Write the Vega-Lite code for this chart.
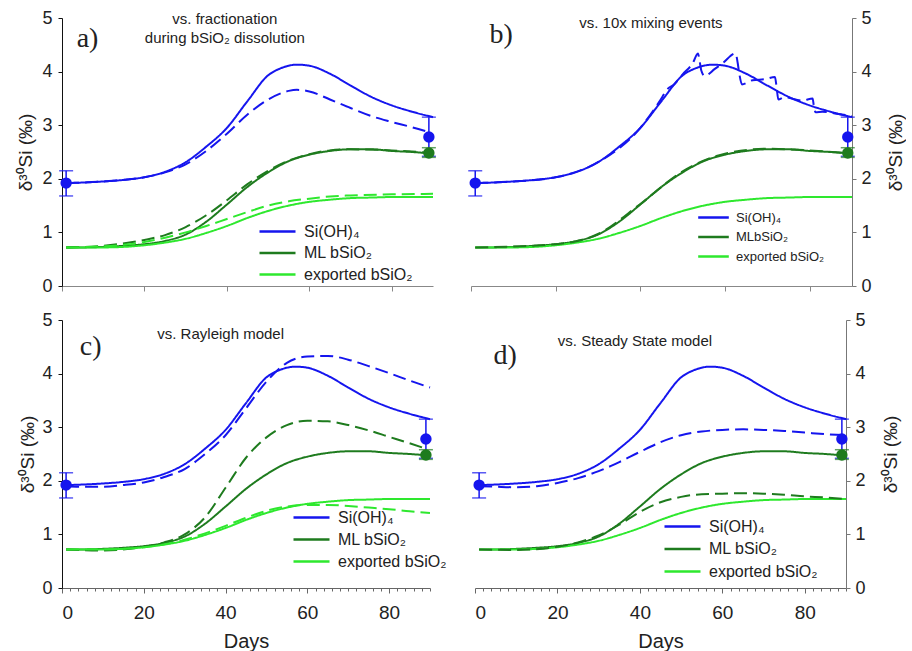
{
  "$schema": "https://vega.github.io/schema/vega-lite/v6.json",
  "background": "white",
  "padding": {"left": 16, "top": 9, "right": 0, "bottom": 0},
  "config": {
    "view": {"stroke": null},
    "font": "Liberation Sans",
    "axis": {"grid": false, "titleFontWeight": "normal", "labelFont": "Liberation Sans", "titleFont": "Liberation Sans", "labelColor": "#222", "titleColor": "#222"},
    "legend": {"labelFont": "Liberation Sans", "labelColor": "#222"}
  },
  "datasets": {
    "lines": [
      {"panel": "ref", "series": "Si(OH)₄", "style": "solid", "day": 1, "value": 1.92},
      {"panel": "ref", "series": "Si(OH)₄", "style": "solid", "day": 5, "value": 1.93},
      {"panel": "ref", "series": "Si(OH)₄", "style": "solid", "day": 10, "value": 1.95},
      {"panel": "ref", "series": "Si(OH)₄", "style": "solid", "day": 15, "value": 1.98},
      {"panel": "ref", "series": "Si(OH)₄", "style": "solid", "day": 20, "value": 2.03},
      {"panel": "ref", "series": "Si(OH)₄", "style": "solid", "day": 25, "value": 2.13},
      {"panel": "ref", "series": "Si(OH)₄", "style": "solid", "day": 30, "value": 2.31},
      {"panel": "ref", "series": "Si(OH)₄", "style": "solid", "day": 35, "value": 2.6},
      {"panel": "ref", "series": "Si(OH)₄", "style": "solid", "day": 40, "value": 2.95},
      {"panel": "ref", "series": "Si(OH)₄", "style": "solid", "day": 45, "value": 3.45},
      {"panel": "ref", "series": "Si(OH)₄", "style": "solid", "day": 50, "value": 3.93},
      {"panel": "ref", "series": "Si(OH)₄", "style": "solid", "day": 53, "value": 4.06},
      {"panel": "ref", "series": "Si(OH)₄", "style": "solid", "day": 55, "value": 4.11},
      {"panel": "ref", "series": "Si(OH)₄", "style": "solid", "day": 57, "value": 4.13},
      {"panel": "ref", "series": "Si(OH)₄", "style": "solid", "day": 60, "value": 4.11},
      {"panel": "ref", "series": "Si(OH)₄", "style": "solid", "day": 65, "value": 3.96},
      {"panel": "ref", "series": "Si(OH)₄", "style": "solid", "day": 70, "value": 3.74},
      {"panel": "ref", "series": "Si(OH)₄", "style": "solid", "day": 75, "value": 3.53},
      {"panel": "ref", "series": "Si(OH)₄", "style": "solid", "day": 80, "value": 3.37},
      {"panel": "ref", "series": "Si(OH)₄", "style": "solid", "day": 85, "value": 3.25},
      {"panel": "ref", "series": "Si(OH)₄", "style": "solid", "day": 90, "value": 3.15},
      {"panel": "ref", "series": "ML bSiO₂", "style": "solid", "day": 1, "value": 0.72},
      {"panel": "ref", "series": "ML bSiO₂", "style": "solid", "day": 5, "value": 0.72},
      {"panel": "ref", "series": "ML bSiO₂", "style": "solid", "day": 10, "value": 0.73},
      {"panel": "ref", "series": "ML bSiO₂", "style": "solid", "day": 15, "value": 0.75},
      {"panel": "ref", "series": "ML bSiO₂", "style": "solid", "day": 20, "value": 0.78},
      {"panel": "ref", "series": "ML bSiO₂", "style": "solid", "day": 25, "value": 0.84},
      {"panel": "ref", "series": "ML bSiO₂", "style": "solid", "day": 30, "value": 0.96},
      {"panel": "ref", "series": "ML bSiO₂", "style": "solid", "day": 35, "value": 1.2},
      {"panel": "ref", "series": "ML bSiO₂", "style": "solid", "day": 40, "value": 1.52},
      {"panel": "ref", "series": "ML bSiO₂", "style": "solid", "day": 45, "value": 1.85},
      {"panel": "ref", "series": "ML bSiO₂", "style": "solid", "day": 50, "value": 2.12},
      {"panel": "ref", "series": "ML bSiO₂", "style": "solid", "day": 55, "value": 2.33},
      {"panel": "ref", "series": "ML bSiO₂", "style": "solid", "day": 60, "value": 2.45},
      {"panel": "ref", "series": "ML bSiO₂", "style": "solid", "day": 65, "value": 2.52},
      {"panel": "ref", "series": "ML bSiO₂", "style": "solid", "day": 70, "value": 2.55},
      {"panel": "ref", "series": "ML bSiO₂", "style": "solid", "day": 75, "value": 2.55},
      {"panel": "ref", "series": "ML bSiO₂", "style": "solid", "day": 80, "value": 2.52},
      {"panel": "ref", "series": "ML bSiO₂", "style": "solid", "day": 85, "value": 2.5},
      {"panel": "ref", "series": "ML bSiO₂", "style": "solid", "day": 90, "value": 2.47},
      {"panel": "ref", "series": "exported bSiO₂", "style": "solid", "day": 1, "value": 0.72},
      {"panel": "ref", "series": "exported bSiO₂", "style": "solid", "day": 5, "value": 0.72},
      {"panel": "ref", "series": "exported bSiO₂", "style": "solid", "day": 10, "value": 0.72},
      {"panel": "ref", "series": "exported bSiO₂", "style": "solid", "day": 15, "value": 0.73},
      {"panel": "ref", "series": "exported bSiO₂", "style": "solid", "day": 20, "value": 0.76},
      {"panel": "ref", "series": "exported bSiO₂", "style": "solid", "day": 25, "value": 0.81},
      {"panel": "ref", "series": "exported bSiO₂", "style": "solid", "day": 30, "value": 0.88},
      {"panel": "ref", "series": "exported bSiO₂", "style": "solid", "day": 35, "value": 0.99},
      {"panel": "ref", "series": "exported bSiO₂", "style": "solid", "day": 40, "value": 1.12},
      {"panel": "ref", "series": "exported bSiO₂", "style": "solid", "day": 45, "value": 1.27},
      {"panel": "ref", "series": "exported bSiO₂", "style": "solid", "day": 50, "value": 1.4},
      {"panel": "ref", "series": "exported bSiO₂", "style": "solid", "day": 55, "value": 1.5},
      {"panel": "ref", "series": "exported bSiO₂", "style": "solid", "day": 60, "value": 1.57},
      {"panel": "ref", "series": "exported bSiO₂", "style": "solid", "day": 65, "value": 1.61},
      {"panel": "ref", "series": "exported bSiO₂", "style": "solid", "day": 70, "value": 1.64},
      {"panel": "ref", "series": "exported bSiO₂", "style": "solid", "day": 75, "value": 1.65},
      {"panel": "ref", "series": "exported bSiO₂", "style": "solid", "day": 80, "value": 1.66},
      {"panel": "ref", "series": "exported bSiO₂", "style": "solid", "day": 85, "value": 1.66},
      {"panel": "ref", "series": "exported bSiO₂", "style": "solid", "day": 90, "value": 1.66},

      {"panel": "a", "series": "Si(OH)₄", "style": "dashed", "day": 1, "value": 1.92},
      {"panel": "a", "series": "Si(OH)₄", "style": "dashed", "day": 10, "value": 1.95},
      {"panel": "a", "series": "Si(OH)₄", "style": "dashed", "day": 20, "value": 2.03},
      {"panel": "a", "series": "Si(OH)₄", "style": "dashed", "day": 25, "value": 2.12},
      {"panel": "a", "series": "Si(OH)₄", "style": "dashed", "day": 30, "value": 2.27},
      {"panel": "a", "series": "Si(OH)₄", "style": "dashed", "day": 35, "value": 2.52},
      {"panel": "a", "series": "Si(OH)₄", "style": "dashed", "day": 40, "value": 2.84},
      {"panel": "a", "series": "Si(OH)₄", "style": "dashed", "day": 45, "value": 3.2},
      {"panel": "a", "series": "Si(OH)₄", "style": "dashed", "day": 50, "value": 3.48},
      {"panel": "a", "series": "Si(OH)₄", "style": "dashed", "day": 55, "value": 3.64},
      {"panel": "a", "series": "Si(OH)₄", "style": "dashed", "day": 57, "value": 3.66},
      {"panel": "a", "series": "Si(OH)₄", "style": "dashed", "day": 60, "value": 3.63},
      {"panel": "a", "series": "Si(OH)₄", "style": "dashed", "day": 65, "value": 3.48},
      {"panel": "a", "series": "Si(OH)₄", "style": "dashed", "day": 70, "value": 3.32},
      {"panel": "a", "series": "Si(OH)₄", "style": "dashed", "day": 75, "value": 3.17},
      {"panel": "a", "series": "Si(OH)₄", "style": "dashed", "day": 80, "value": 3.06},
      {"panel": "a", "series": "Si(OH)₄", "style": "dashed", "day": 85, "value": 2.96},
      {"panel": "a", "series": "Si(OH)₄", "style": "dashed", "day": 89, "value": 2.87},
      {"panel": "a", "series": "ML bSiO₂", "style": "dashed", "day": 1, "value": 0.72},
      {"panel": "a", "series": "ML bSiO₂", "style": "dashed", "day": 10, "value": 0.75},
      {"panel": "a", "series": "ML bSiO₂", "style": "dashed", "day": 20, "value": 0.86},
      {"panel": "a", "series": "ML bSiO₂", "style": "dashed", "day": 25, "value": 0.95},
      {"panel": "a", "series": "ML bSiO₂", "style": "dashed", "day": 30, "value": 1.1},
      {"panel": "a", "series": "ML bSiO₂", "style": "dashed", "day": 35, "value": 1.32},
      {"panel": "a", "series": "ML bSiO₂", "style": "dashed", "day": 40, "value": 1.6},
      {"panel": "a", "series": "ML bSiO₂", "style": "dashed", "day": 45, "value": 1.9},
      {"panel": "a", "series": "ML bSiO₂", "style": "dashed", "day": 50, "value": 2.15},
      {"panel": "a", "series": "ML bSiO₂", "style": "dashed", "day": 55, "value": 2.34},
      {"panel": "a", "series": "ML bSiO₂", "style": "dashed", "day": 60, "value": 2.46},
      {"panel": "a", "series": "ML bSiO₂", "style": "dashed", "day": 65, "value": 2.53},
      {"panel": "a", "series": "ML bSiO₂", "style": "dashed", "day": 70, "value": 2.55},
      {"panel": "a", "series": "ML bSiO₂", "style": "dashed", "day": 80, "value": 2.53},
      {"panel": "a", "series": "ML bSiO₂", "style": "dashed", "day": 90, "value": 2.48},
      {"panel": "a", "series": "exported bSiO₂", "style": "dashed", "day": 1, "value": 0.72},
      {"panel": "a", "series": "exported bSiO₂", "style": "dashed", "day": 10, "value": 0.74},
      {"panel": "a", "series": "exported bSiO₂", "style": "dashed", "day": 20, "value": 0.82},
      {"panel": "a", "series": "exported bSiO₂", "style": "dashed", "day": 25, "value": 0.9},
      {"panel": "a", "series": "exported bSiO₂", "style": "dashed", "day": 30, "value": 1.0},
      {"panel": "a", "series": "exported bSiO₂", "style": "dashed", "day": 35, "value": 1.12},
      {"panel": "a", "series": "exported bSiO₂", "style": "dashed", "day": 40, "value": 1.25},
      {"panel": "a", "series": "exported bSiO₂", "style": "dashed", "day": 45, "value": 1.38},
      {"panel": "a", "series": "exported bSiO₂", "style": "dashed", "day": 50, "value": 1.5},
      {"panel": "a", "series": "exported bSiO₂", "style": "dashed", "day": 55, "value": 1.58},
      {"panel": "a", "series": "exported bSiO₂", "style": "dashed", "day": 60, "value": 1.63},
      {"panel": "a", "series": "exported bSiO₂", "style": "dashed", "day": 65, "value": 1.67},
      {"panel": "a", "series": "exported bSiO₂", "style": "dashed", "day": 70, "value": 1.69},
      {"panel": "a", "series": "exported bSiO₂", "style": "dashed", "day": 80, "value": 1.71},
      {"panel": "a", "series": "exported bSiO₂", "style": "dashed", "day": 90, "value": 1.72},

      {"panel": "b", "series": "Si(OH)₄", "style": "dashed", "day": 1, "value": 1.92},
      {"panel": "b", "series": "Si(OH)₄", "style": "dashed", "day": 10, "value": 1.95},
      {"panel": "b", "series": "Si(OH)₄", "style": "dashed", "day": 20, "value": 2.03},
      {"panel": "b", "series": "Si(OH)₄", "style": "dashed", "day": 30, "value": 2.31},
      {"panel": "b", "series": "Si(OH)₄", "style": "dashed", "day": 40, "value": 2.95},
      {"panel": "b", "series": "Si(OH)₄", "style": "dashed", "day": 44.5, "value": 3.44},
      {"panel": "b", "series": "Si(OH)₄", "style": "dashed", "day": 46.5, "value": 3.68},
      {"panel": "b", "series": "Si(OH)₄", "style": "dashed", "day": 48, "value": 3.76},
      {"panel": "b", "series": "Si(OH)₄", "style": "dashed", "day": 50, "value": 3.95},
      {"panel": "b", "series": "Si(OH)₄", "style": "dashed", "day": 52.4, "value": 4.16},
      {"panel": "b", "series": "Si(OH)₄", "style": "dashed", "day": 53.6, "value": 4.34},
      {"panel": "b", "series": "Si(OH)₄", "style": "dashed", "day": 54.0, "value": 4.2},
      {"panel": "b", "series": "Si(OH)₄", "style": "dashed", "day": 54.4, "value": 4.02},
      {"panel": "b", "series": "Si(OH)₄", "style": "dashed", "day": 55.2, "value": 3.92},
      {"panel": "b", "series": "Si(OH)₄", "style": "dashed", "day": 57.6, "value": 4.05},
      {"panel": "b", "series": "Si(OH)₄", "style": "dashed", "day": 59.5, "value": 4.16},
      {"panel": "b", "series": "Si(OH)₄", "style": "dashed", "day": 62.5, "value": 4.34},
      {"panel": "b", "series": "Si(OH)₄", "style": "dashed", "day": 63.0, "value": 4.16},
      {"panel": "b", "series": "Si(OH)₄", "style": "dashed", "day": 63.4, "value": 3.95},
      {"panel": "b", "series": "Si(OH)₄", "style": "dashed", "day": 64.0, "value": 3.76},
      {"panel": "b", "series": "Si(OH)₄", "style": "dashed", "day": 66.5, "value": 3.84},
      {"panel": "b", "series": "Si(OH)₄", "style": "dashed", "day": 69.6, "value": 3.86},
      {"panel": "b", "series": "Si(OH)₄", "style": "dashed", "day": 71.8, "value": 3.9},
      {"panel": "b", "series": "Si(OH)₄", "style": "dashed", "day": 72.2, "value": 3.7},
      {"panel": "b", "series": "Si(OH)₄", "style": "dashed", "day": 72.6, "value": 3.48},
      {"panel": "b", "series": "Si(OH)₄", "style": "dashed", "day": 74.0, "value": 3.52},
      {"panel": "b", "series": "Si(OH)₄", "style": "dashed", "day": 78.3, "value": 3.46},
      {"panel": "b", "series": "Si(OH)₄", "style": "dashed", "day": 80.7, "value": 3.5},
      {"panel": "b", "series": "Si(OH)₄", "style": "dashed", "day": 81.0, "value": 3.35},
      {"panel": "b", "series": "Si(OH)₄", "style": "dashed", "day": 81.4, "value": 3.24},
      {"panel": "b", "series": "Si(OH)₄", "style": "dashed", "day": 83, "value": 3.25},
      {"panel": "b", "series": "Si(OH)₄", "style": "dashed", "day": 86, "value": 3.22},
      {"panel": "b", "series": "Si(OH)₄", "style": "dashed", "day": 90, "value": 3.17},
      {"panel": "b", "series": "ML bSiO₂", "style": "dashed", "day": 1, "value": 0.72},
      {"panel": "b", "series": "ML bSiO₂", "style": "dashed", "day": 20, "value": 0.78},
      {"panel": "b", "series": "ML bSiO₂", "style": "dashed", "day": 30, "value": 0.97},
      {"panel": "b", "series": "ML bSiO₂", "style": "dashed", "day": 40, "value": 1.53},
      {"panel": "b", "series": "ML bSiO₂", "style": "dashed", "day": 50, "value": 2.14},
      {"panel": "b", "series": "ML bSiO₂", "style": "dashed", "day": 60, "value": 2.47},
      {"panel": "b", "series": "ML bSiO₂", "style": "dashed", "day": 70, "value": 2.56},
      {"panel": "b", "series": "ML bSiO₂", "style": "dashed", "day": 80, "value": 2.53},
      {"panel": "b", "series": "ML bSiO₂", "style": "dashed", "day": 90, "value": 2.47},

      {"panel": "c", "series": "Si(OH)₄", "style": "dashed", "day": 1, "value": 1.9},
      {"panel": "c", "series": "Si(OH)₄", "style": "dashed", "day": 5, "value": 1.89},
      {"panel": "c", "series": "Si(OH)₄", "style": "dashed", "day": 10, "value": 1.89},
      {"panel": "c", "series": "Si(OH)₄", "style": "dashed", "day": 15, "value": 1.92},
      {"panel": "c", "series": "Si(OH)₄", "style": "dashed", "day": 20, "value": 1.97},
      {"panel": "c", "series": "Si(OH)₄", "style": "dashed", "day": 25, "value": 2.07},
      {"panel": "c", "series": "Si(OH)₄", "style": "dashed", "day": 30, "value": 2.22},
      {"panel": "c", "series": "Si(OH)₄", "style": "dashed", "day": 35, "value": 2.5},
      {"panel": "c", "series": "Si(OH)₄", "style": "dashed", "day": 40, "value": 2.85},
      {"panel": "c", "series": "Si(OH)₄", "style": "dashed", "day": 45, "value": 3.35},
      {"panel": "c", "series": "Si(OH)₄", "style": "dashed", "day": 50, "value": 3.85},
      {"panel": "c", "series": "Si(OH)₄", "style": "dashed", "day": 55, "value": 4.2},
      {"panel": "c", "series": "Si(OH)₄", "style": "dashed", "day": 60, "value": 4.32},
      {"panel": "c", "series": "Si(OH)₄", "style": "dashed", "day": 65, "value": 4.33},
      {"panel": "c", "series": "Si(OH)₄", "style": "dashed", "day": 70, "value": 4.26},
      {"panel": "c", "series": "Si(OH)₄", "style": "dashed", "day": 75, "value": 4.14},
      {"panel": "c", "series": "Si(OH)₄", "style": "dashed", "day": 80, "value": 4.01},
      {"panel": "c", "series": "Si(OH)₄", "style": "dashed", "day": 85, "value": 3.87},
      {"panel": "c", "series": "Si(OH)₄", "style": "dashed", "day": 90, "value": 3.74},
      {"panel": "c", "series": "ML bSiO₂", "style": "dashed", "day": 1, "value": 0.72},
      {"panel": "c", "series": "ML bSiO₂", "style": "dashed", "day": 10, "value": 0.7},
      {"panel": "c", "series": "ML bSiO₂", "style": "dashed", "day": 20, "value": 0.77},
      {"panel": "c", "series": "ML bSiO₂", "style": "dashed", "day": 25, "value": 0.85},
      {"panel": "c", "series": "ML bSiO₂", "style": "dashed", "day": 30, "value": 1.0},
      {"panel": "c", "series": "ML bSiO₂", "style": "dashed", "day": 35, "value": 1.32},
      {"panel": "c", "series": "ML bSiO₂", "style": "dashed", "day": 40, "value": 1.87},
      {"panel": "c", "series": "ML bSiO₂", "style": "dashed", "day": 45, "value": 2.43},
      {"panel": "c", "series": "ML bSiO₂", "style": "dashed", "day": 50, "value": 2.81},
      {"panel": "c", "series": "ML bSiO₂", "style": "dashed", "day": 55, "value": 3.04},
      {"panel": "c", "series": "ML bSiO₂", "style": "dashed", "day": 60, "value": 3.12},
      {"panel": "c", "series": "ML bSiO₂", "style": "dashed", "day": 65, "value": 3.11},
      {"panel": "c", "series": "ML bSiO₂", "style": "dashed", "day": 70, "value": 3.04},
      {"panel": "c", "series": "ML bSiO₂", "style": "dashed", "day": 75, "value": 2.94},
      {"panel": "c", "series": "ML bSiO₂", "style": "dashed", "day": 80, "value": 2.82},
      {"panel": "c", "series": "ML bSiO₂", "style": "dashed", "day": 85, "value": 2.7},
      {"panel": "c", "series": "ML bSiO₂", "style": "dashed", "day": 89, "value": 2.6},
      {"panel": "c", "series": "exported bSiO₂", "style": "dashed", "day": 1, "value": 0.72},
      {"panel": "c", "series": "exported bSiO₂", "style": "dashed", "day": 10, "value": 0.72},
      {"panel": "c", "series": "exported bSiO₂", "style": "dashed", "day": 20, "value": 0.76},
      {"panel": "c", "series": "exported bSiO₂", "style": "dashed", "day": 30, "value": 0.9},
      {"panel": "c", "series": "exported bSiO₂", "style": "dashed", "day": 35, "value": 1.02},
      {"panel": "c", "series": "exported bSiO₂", "style": "dashed", "day": 40, "value": 1.16},
      {"panel": "c", "series": "exported bSiO₂", "style": "dashed", "day": 45, "value": 1.31},
      {"panel": "c", "series": "exported bSiO₂", "style": "dashed", "day": 50, "value": 1.44},
      {"panel": "c", "series": "exported bSiO₂", "style": "dashed", "day": 55, "value": 1.52},
      {"panel": "c", "series": "exported bSiO₂", "style": "dashed", "day": 60, "value": 1.55},
      {"panel": "c", "series": "exported bSiO₂", "style": "dashed", "day": 65, "value": 1.55},
      {"panel": "c", "series": "exported bSiO₂", "style": "dashed", "day": 70, "value": 1.53},
      {"panel": "c", "series": "exported bSiO₂", "style": "dashed", "day": 75, "value": 1.5},
      {"panel": "c", "series": "exported bSiO₂", "style": "dashed", "day": 80, "value": 1.47},
      {"panel": "c", "series": "exported bSiO₂", "style": "dashed", "day": 85, "value": 1.43},
      {"panel": "c", "series": "exported bSiO₂", "style": "dashed", "day": 90, "value": 1.4},

      {"panel": "d", "series": "Si(OH)₄", "style": "dashed", "day": 1, "value": 1.9},
      {"panel": "d", "series": "Si(OH)₄", "style": "dashed", "day": 5, "value": 1.89},
      {"panel": "d", "series": "Si(OH)₄", "style": "dashed", "day": 10, "value": 1.88},
      {"panel": "d", "series": "Si(OH)₄", "style": "dashed", "day": 15, "value": 1.9},
      {"panel": "d", "series": "Si(OH)₄", "style": "dashed", "day": 20, "value": 1.96},
      {"panel": "d", "series": "Si(OH)₄", "style": "dashed", "day": 25, "value": 2.05},
      {"panel": "d", "series": "Si(OH)₄", "style": "dashed", "day": 30, "value": 2.18},
      {"panel": "d", "series": "Si(OH)₄", "style": "dashed", "day": 35, "value": 2.35},
      {"panel": "d", "series": "Si(OH)₄", "style": "dashed", "day": 40, "value": 2.54},
      {"panel": "d", "series": "Si(OH)₄", "style": "dashed", "day": 45, "value": 2.72},
      {"panel": "d", "series": "Si(OH)₄", "style": "dashed", "day": 50, "value": 2.85},
      {"panel": "d", "series": "Si(OH)₄", "style": "dashed", "day": 55, "value": 2.92},
      {"panel": "d", "series": "Si(OH)₄", "style": "dashed", "day": 60, "value": 2.95},
      {"panel": "d", "series": "Si(OH)₄", "style": "dashed", "day": 65, "value": 2.96},
      {"panel": "d", "series": "Si(OH)₄", "style": "dashed", "day": 70, "value": 2.95},
      {"panel": "d", "series": "Si(OH)₄", "style": "dashed", "day": 75, "value": 2.93},
      {"panel": "d", "series": "Si(OH)₄", "style": "dashed", "day": 80, "value": 2.9},
      {"panel": "d", "series": "Si(OH)₄", "style": "dashed", "day": 85, "value": 2.87},
      {"panel": "d", "series": "Si(OH)₄", "style": "dashed", "day": 90, "value": 2.85},
      {"panel": "d", "series": "ML bSiO₂", "style": "dashed", "day": 1, "value": 0.72},
      {"panel": "d", "series": "ML bSiO₂", "style": "dashed", "day": 10, "value": 0.71},
      {"panel": "d", "series": "ML bSiO₂", "style": "dashed", "day": 20, "value": 0.77},
      {"panel": "d", "series": "ML bSiO₂", "style": "dashed", "day": 25, "value": 0.85},
      {"panel": "d", "series": "ML bSiO₂", "style": "dashed", "day": 30, "value": 0.98},
      {"panel": "d", "series": "ML bSiO₂", "style": "dashed", "day": 35, "value": 1.18},
      {"panel": "d", "series": "ML bSiO₂", "style": "dashed", "day": 40, "value": 1.42},
      {"panel": "d", "series": "ML bSiO₂", "style": "dashed", "day": 45, "value": 1.6},
      {"panel": "d", "series": "ML bSiO₂", "style": "dashed", "day": 50, "value": 1.7},
      {"panel": "d", "series": "ML bSiO₂", "style": "dashed", "day": 55, "value": 1.75},
      {"panel": "d", "series": "ML bSiO₂", "style": "dashed", "day": 60, "value": 1.76},
      {"panel": "d", "series": "ML bSiO₂", "style": "dashed", "day": 65, "value": 1.77},
      {"panel": "d", "series": "ML bSiO₂", "style": "dashed", "day": 70, "value": 1.76},
      {"panel": "d", "series": "ML bSiO₂", "style": "dashed", "day": 75, "value": 1.74},
      {"panel": "d", "series": "ML bSiO₂", "style": "dashed", "day": 80, "value": 1.71},
      {"panel": "d", "series": "ML bSiO₂", "style": "dashed", "day": 85, "value": 1.69},
      {"panel": "d", "series": "ML bSiO₂", "style": "dashed", "day": 90, "value": 1.66}
    ],
    "obs": [
      {"series": "Si", "day": 1, "value": 1.92, "lo": 1.68, "hi": 2.15},
      {"series": "Si", "day": 89, "value": 2.78, "lo": 2.42, "hi": 3.15},
      {"series": "ML", "day": 89, "value": 2.48, "lo": 2.4, "hi": 2.58}
    ],
    "one": [{}]
  },
  "spacing": 16,
  "resolve": {"scale": {"color": "independent", "strokeDash": "independent", "fill": "independent"}, "legend": {"color": "independent", "strokeDash": "independent", "fill": "independent"}},
  "vconcat": [
    {
      "spacing": 31,
      "resolve": {"scale": {"color": "independent", "strokeDash": "independent", "fill": "independent"}, "legend": {"color": "independent", "strokeDash": "independent", "fill": "independent"}},
      "hconcat": [
        {
          "width": 371, "height": 268,
          "layer": [
            {
              "data": {"name": "lines"},
              "transform": [{"filter": "datum.panel == 'ref' || datum.panel == 'a'"}],
              "mark": {"type": "line", "strokeWidth": 2, "interpolate": "monotone"},
              "encoding": {
                "x": {"field": "day", "type": "quantitative", "title": null, "scale": {"domain": [0, 90], "nice": false, "zero": false}, "axis": {"values": [0, 20, 40, 60, 80], "labels": false, "tickSize": 5, "domainColor": "#888", "tickColor": "#888"}},
                "y": {"field": "value", "type": "quantitative", "title": "δ³⁰Si (‰)", "scale": {"domain": [0, 5], "nice": false}, "axis": {"orient": "left", "values": [0, 0.5, 1, 1.5, 2, 2.5, 3, 3.5, 4, 4.5, 5], "labelExpr": "datum.value % 1 == 0 ? datum.label : ''", "tickSize": 4, "labelPadding": 6, "labelFontSize": 18, "titleFontSize": 19, "titlePadding": 6, "domainColor": "#111", "tickColor": "#111"}},
                "color": {"field": "series", "type": "nominal", "scale": {"domain": ["Si(OH)₄", "ML bSiO₂", "exported bSiO₂"], "range": ["#1515ee", "#1e7b1e", "#2ee82e"]}, "legend": {"orient": "none", "legendX": 204, "legendY": 202, "title": null, "symbolType": "M-1.8,0H1.8", "symbolSize": 400, "symbolStrokeWidth": 2.5, "labelFontSize": 16, "labelOffset": 15, "rowPadding": 1.5, "padding": 0}},
                "strokeDash": {"field": "style", "type": "nominal", "scale": {"domain": ["solid", "dashed"], "range": [[1, 0], [13, 6]]}, "legend": null}
              }
            },
            {
              "data": {"name": "obs"}, "transform": [{"filter": "datum.series == 'Si'"}],
              "mark": {"type": "errorbar", "ticks": {"size": 14}, "color": "#1515ee", "thickness": 1.5},
              "encoding": {"x": {"field": "day", "type": "quantitative", "title": null}, "y": {"field": "lo", "type": "quantitative", "title": "δ³⁰Si (‰)"}, "y2": {"field": "hi"}}
            },
            {
              "data": {"name": "obs"}, "transform": [{"filter": "datum.series == 'ML'"}],
              "mark": {"type": "errorbar", "ticks": {"size": 14}, "color": "#1e7b1e", "thickness": 1.5},
              "encoding": {"x": {"field": "day", "type": "quantitative", "title": null}, "y": {"field": "lo", "type": "quantitative", "title": "δ³⁰Si (‰)"}, "y2": {"field": "hi"}}
            },
            {
              "data": {"name": "obs"},
              "mark": {"type": "point", "filled": true, "size": 130, "opacity": 1, "strokeWidth": 0},
              "encoding": {"x": {"field": "day", "type": "quantitative", "title": null}, "y": {"field": "value", "type": "quantitative", "title": "δ³⁰Si (‰)"}, "fill": {"field": "series", "type": "nominal", "scale": {"domain": ["Si", "ML"], "range": ["#1515ee", "#1e7b1e"]}, "legend": null}}
            },
            {
              "data": {"name": "one"},
              "mark": {"type": "text", "text": "a)", "font": "Liberation Serif", "fontSize": 28, "align": "center", "baseline": "middle", "color": "#222"},
              "encoding": {"x": {"datum": 6.2, "type": "quantitative"}, "y": {"datum": 4.61, "type": "quantitative"}}
            },
            {
              "data": {"name": "one"},
              "mark": {"type": "text", "text": ["vs. fractionation", "during bSiO₂ dissolution"], "fontSize": 15, "lineHeight": 19, "align": "center", "baseline": "top", "color": "#222"},
              "encoding": {"x": {"datum": 39.5, "type": "quantitative"}, "y": {"datum": 5.11, "type": "quantitative"}}
            }
          ]
        },
        {
          "width": 381, "height": 268,
          "layer": [
            {
              "data": {"name": "lines"},
              "transform": [{"filter": "datum.panel == 'ref' || datum.panel == 'b'"}],
              "mark": {"type": "line", "strokeWidth": 2, "interpolate": "monotone"},
              "encoding": {
                "x": {"field": "day", "type": "quantitative", "title": null, "scale": {"domain": [0, 90], "nice": false, "zero": false}, "axis": {"values": [0, 20, 40, 60, 80], "labels": false, "tickSize": 5, "domainColor": "#888", "tickColor": "#888"}},
                "y": {"field": "value", "type": "quantitative", "title": "δ³⁰Si (‰)", "scale": {"domain": [0, 5], "nice": false}, "axis": {"orient": "right", "values": [0, 0.5, 1, 1.5, 2, 2.5, 3, 3.5, 4, 4.5, 5], "labelExpr": "datum.value % 1 == 0 ? datum.label : ''", "tickSize": 4, "labelPadding": 5, "labelFontSize": 18, "titleFontSize": 19, "titlePadding": 15, "titleAngle": 270, "titleBaseline": "top", "domainColor": "#777", "tickColor": "#777"}},
                "color": {"field": "series", "type": "nominal", "scale": {"domain": ["Si(OH)₄", "ML bSiO₂", "exported bSiO₂"], "range": ["#1515ee", "#1e7b1e", "#2ee82e"]}, "legend": {"orient": "none", "legendX": 232, "legendY": 189, "title": null, "symbolType": "M-1.7,0H1.7", "symbolSize": 324, "symbolStrokeWidth": 2.5, "labelFontSize": 13, "labelOffset": 12, "rowPadding": 1.5, "padding": 0, "labelExpr": "datum.label == 'ML bSiO₂' ? 'MLbSiO₂' : datum.label"}},
                "strokeDash": {"field": "style", "type": "nominal", "scale": {"domain": ["solid", "dashed"], "range": [[1, 0], [13, 6]]}, "legend": null}
              }
            },
            {
              "data": {"name": "obs"}, "transform": [{"filter": "datum.series == 'Si'"}],
              "mark": {"type": "errorbar", "ticks": {"size": 14}, "color": "#1515ee", "thickness": 1.5},
              "encoding": {"x": {"field": "day", "type": "quantitative", "title": null}, "y": {"field": "lo", "type": "quantitative", "title": "δ³⁰Si (‰)"}, "y2": {"field": "hi"}}
            },
            {
              "data": {"name": "obs"}, "transform": [{"filter": "datum.series == 'ML'"}],
              "mark": {"type": "errorbar", "ticks": {"size": 14}, "color": "#1e7b1e", "thickness": 1.5},
              "encoding": {"x": {"field": "day", "type": "quantitative", "title": null}, "y": {"field": "lo", "type": "quantitative", "title": "δ³⁰Si (‰)"}, "y2": {"field": "hi"}}
            },
            {
              "data": {"name": "obs"},
              "mark": {"type": "point", "filled": true, "size": 130, "opacity": 1, "strokeWidth": 0},
              "encoding": {"x": {"field": "day", "type": "quantitative", "title": null}, "y": {"field": "value", "type": "quantitative", "title": "δ³⁰Si (‰)"}, "fill": {"field": "series", "type": "nominal", "scale": {"domain": ["Si", "ML"], "range": ["#1515ee", "#1e7b1e"]}, "legend": null}}
            },
            {
              "data": {"name": "one"},
              "mark": {"type": "text", "text": "b)", "font": "Liberation Serif", "fontSize": 28, "align": "center", "baseline": "middle", "color": "#222"},
              "encoding": {"x": {"datum": 7.1, "type": "quantitative"}, "y": {"datum": 4.68, "type": "quantitative"}}
            },
            {
              "data": {"name": "one"},
              "mark": {"type": "text", "text": "vs. 10x mixing events", "fontSize": 15, "align": "center", "baseline": "top", "color": "#222"},
              "encoding": {"x": {"datum": 42.5, "type": "quantitative"}, "y": {"datum": 5.04, "type": "quantitative"}}
            }
          ]
        }
      ]
    },
    {
      "spacing": 25,
      "resolve": {"scale": {"color": "independent", "strokeDash": "independent", "fill": "independent"}, "legend": {"color": "independent", "strokeDash": "independent", "fill": "independent"}},
      "hconcat": [
        {
          "width": 368, "height": 268,
          "resolve": {"axis": {"x": "independent"}},
          "layer": [
            {
              "data": {"name": "lines"},
              "transform": [{"filter": "datum.panel == 'ref' || datum.panel == 'c'"}],
              "mark": {"type": "line", "strokeWidth": 2, "interpolate": "monotone"},
              "encoding": {
                "x": {"field": "day", "type": "quantitative", "title": "Days", "scale": {"domain": [0, 90], "nice": false, "zero": false}, "axis": {"orient": "bottom", "values": [0, 20, 40, 60, 80], "tickSize": 5, "labelPadding": 10, "labelFontSize": 19, "titleFontSize": 20, "titlePadding": 9, "domainColor": "#666", "tickColor": "#666"}},
                "y": {"field": "value", "type": "quantitative", "title": "δ³⁰Si (‰)", "scale": {"domain": [0, 5], "nice": false}, "axis": {"orient": "left", "values": [0, 0.5, 1, 1.5, 2, 2.5, 3, 3.5, 4, 4.5, 5], "labelExpr": "datum.value % 1 == 0 ? datum.label : ''", "tickSize": 4, "labelPadding": 6, "labelFontSize": 18, "titleFontSize": 19, "titlePadding": 4, "domainColor": "#111", "tickColor": "#111"}},
                "color": {"field": "series", "type": "nominal", "scale": {"domain": ["Si(OH)₄", "ML bSiO₂", "exported bSiO₂"], "range": ["#1515ee", "#1e7b1e", "#2ee82e"]}, "legend": {"orient": "none", "legendX": 238, "legendY": 186, "title": null, "symbolType": "M-1.8,0H1.8", "symbolSize": 400, "symbolStrokeWidth": 2.5, "labelFontSize": 16, "labelOffset": 15, "rowPadding": 2, "padding": 0}},
                "strokeDash": {"field": "style", "type": "nominal", "scale": {"domain": ["solid", "dashed"], "range": [[1, 0], [13, 6]]}, "legend": null}
              }
            },
            {
              "data": {"name": "obs"}, "transform": [{"filter": "datum.series == 'Si'"}],
              "mark": {"type": "errorbar", "ticks": {"size": 14}, "color": "#1515ee", "thickness": 1.5},
              "encoding": {"x": {"field": "day", "type": "quantitative", "title": null, "axis": {"orient": "bottom", "values": [2, 4, 6, 8, 10, 12, 14, 16, 18, 22, 24, 26, 28, 30, 32, 34, 36, 38, 42, 44, 46, 48, 50, 52, 54, 56, 58, 62, 64, 66, 68, 70, 72, 74, 76, 78, 82, 84, 86, 88, 90], "labels": false, "domain": false, "tickSize": 3, "tickColor": "#666"}}, "y": {"field": "lo", "type": "quantitative", "title": "δ³⁰Si (‰)"}, "y2": {"field": "hi"}}
            },
            {
              "data": {"name": "obs"}, "transform": [{"filter": "datum.series == 'ML'"}],
              "mark": {"type": "errorbar", "ticks": {"size": 14}, "color": "#1e7b1e", "thickness": 1.5},
              "encoding": {"x": {"field": "day", "type": "quantitative", "title": null, "axis": null}, "y": {"field": "lo", "type": "quantitative", "title": "δ³⁰Si (‰)"}, "y2": {"field": "hi"}}
            },
            {
              "data": {"name": "obs"},
              "mark": {"type": "point", "filled": true, "size": 130, "opacity": 1, "strokeWidth": 0},
              "encoding": {"x": {"field": "day", "type": "quantitative", "title": null, "axis": null}, "y": {"field": "value", "type": "quantitative", "title": "δ³⁰Si (‰)"}, "fill": {"field": "series", "type": "nominal", "scale": {"domain": ["Si", "ML"], "range": ["#1515ee", "#1e7b1e"]}, "legend": null}}
            },
            {
              "data": {"name": "one"},
              "mark": {"type": "text", "text": "c)", "font": "Liberation Serif", "fontSize": 28, "align": "center", "baseline": "middle", "color": "#222"},
              "encoding": {"x": {"datum": 7.0, "type": "quantitative", "axis": null}, "y": {"datum": 4.5, "type": "quantitative"}}
            },
            {
              "data": {"name": "one"},
              "mark": {"type": "text", "text": "vs. Rayleigh model", "fontSize": 15, "align": "center", "baseline": "top", "color": "#222"},
              "encoding": {"x": {"datum": 38.8, "type": "quantitative", "axis": null}, "y": {"datum": 4.87, "type": "quantitative"}}
            }
          ]
        },
        {
          "width": 371, "height": 268,
          "resolve": {"axis": {"x": "independent"}},
          "layer": [
            {
              "data": {"name": "lines"},
              "transform": [{"filter": "datum.panel == 'ref' || datum.panel == 'd'"}],
              "mark": {"type": "line", "strokeWidth": 2, "interpolate": "monotone"},
              "encoding": {
                "x": {"field": "day", "type": "quantitative", "title": "Days", "scale": {"domain": [0, 90], "nice": false, "zero": false}, "axis": {"orient": "bottom", "values": [0, 20, 40, 60, 80], "tickSize": 5, "labelPadding": 10, "labelFontSize": 19, "titleFontSize": 20, "titlePadding": 9, "domainColor": "#666", "tickColor": "#666"}},
                "y": {"field": "value", "type": "quantitative", "title": "δ³⁰Si (‰)", "scale": {"domain": [0, 5], "nice": false}, "axis": {"orient": "right", "values": [0, 0.5, 1, 1.5, 2, 2.5, 3, 3.5, 4, 4.5, 5], "labelExpr": "datum.value % 1 == 0 ? datum.label : ''", "tickSize": 4, "labelPadding": 5, "labelFontSize": 18, "titleFontSize": 19, "titlePadding": 16, "titleAngle": 270, "titleBaseline": "top", "domainColor": "#777", "tickColor": "#777"}},
                "color": {"field": "series", "type": "nominal", "scale": {"domain": ["Si(OH)₄", "ML bSiO₂", "exported bSiO₂"], "range": ["#1515ee", "#1e7b1e", "#2ee82e"]}, "legend": {"orient": "none", "legendX": 196, "legendY": 195, "title": null, "symbolType": "M-1.8,0H1.8", "symbolSize": 400, "symbolStrokeWidth": 2.5, "labelFontSize": 16, "labelOffset": 15, "rowPadding": 2.5, "padding": 0}},
                "strokeDash": {"field": "style", "type": "nominal", "scale": {"domain": ["solid", "dashed"], "range": [[1, 0], [13, 6]]}, "legend": null}
              }
            },
            {
              "data": {"name": "obs"}, "transform": [{"filter": "datum.series == 'Si'"}],
              "mark": {"type": "errorbar", "ticks": {"size": 14}, "color": "#1515ee", "thickness": 1.5},
              "encoding": {"x": {"field": "day", "type": "quantitative", "title": null, "axis": {"orient": "bottom", "values": [2, 4, 6, 8, 10, 12, 14, 16, 18, 22, 24, 26, 28, 30, 32, 34, 36, 38, 42, 44, 46, 48, 50, 52, 54, 56, 58, 62, 64, 66, 68, 70, 72, 74, 76, 78, 82, 84, 86, 88, 90], "labels": false, "domain": false, "tickSize": 3, "tickColor": "#666"}}, "y": {"field": "lo", "type": "quantitative", "title": "δ³⁰Si (‰)"}, "y2": {"field": "hi"}}
            },
            {
              "data": {"name": "obs"}, "transform": [{"filter": "datum.series == 'ML'"}],
              "mark": {"type": "errorbar", "ticks": {"size": 14}, "color": "#1e7b1e", "thickness": 1.5},
              "encoding": {"x": {"field": "day", "type": "quantitative", "title": null, "axis": null}, "y": {"field": "lo", "type": "quantitative", "title": "δ³⁰Si (‰)"}, "y2": {"field": "hi"}}
            },
            {
              "data": {"name": "obs"},
              "mark": {"type": "point", "filled": true, "size": 130, "opacity": 1, "strokeWidth": 0},
              "encoding": {"x": {"field": "day", "type": "quantitative", "title": null, "axis": null}, "y": {"field": "value", "type": "quantitative", "title": "δ³⁰Si (‰)"}, "fill": {"field": "series", "type": "nominal", "scale": {"domain": ["Si", "ML"], "range": ["#1515ee", "#1e7b1e"]}, "legend": null}}
            },
            {
              "data": {"name": "one"},
              "mark": {"type": "text", "text": "d)", "font": "Liberation Serif", "fontSize": 28, "align": "center", "baseline": "middle", "color": "#222"},
              "encoding": {"x": {"datum": 7.3, "type": "quantitative", "axis": null}, "y": {"datum": 4.33, "type": "quantitative"}}
            },
            {
              "data": {"name": "one"},
              "mark": {"type": "text", "text": "vs. Steady State model", "fontSize": 15, "align": "center", "baseline": "top", "color": "#222"},
              "encoding": {"x": {"datum": 38.8, "type": "quantitative", "axis": null}, "y": {"datum": 4.74, "type": "quantitative"}}
            }
          ]
        }
      ]
    }
  ]
}
